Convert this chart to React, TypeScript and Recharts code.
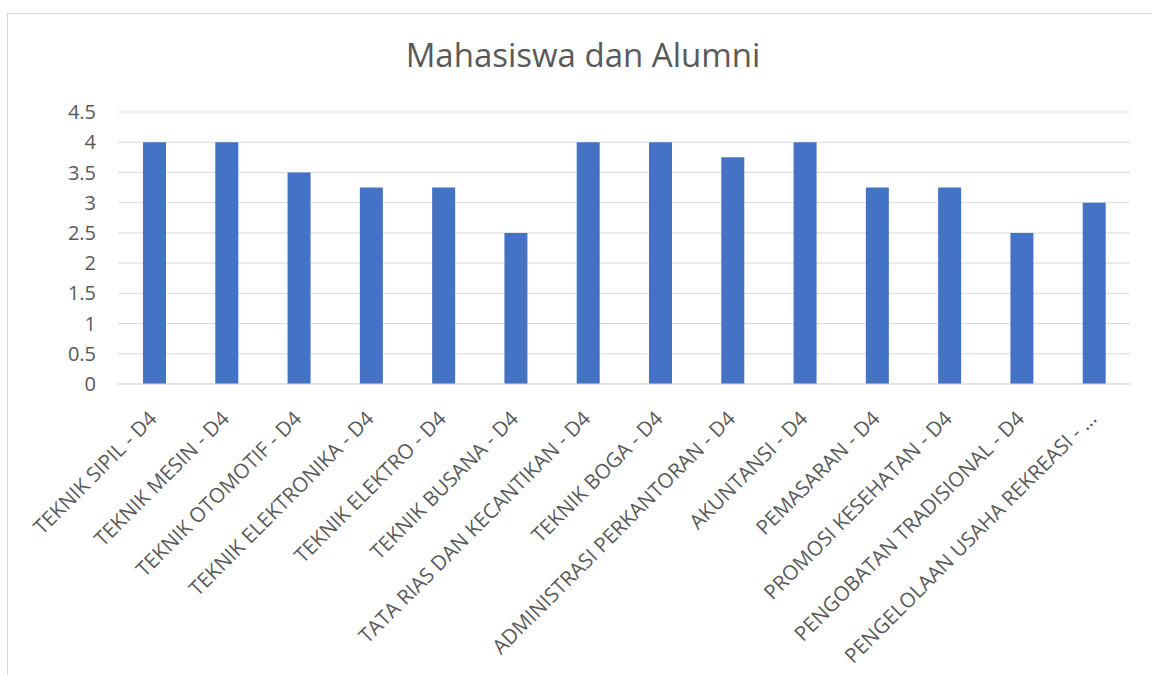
import { Bar, BarChart, CartesianGrid, XAxis, YAxis } from "recharts";

const PRODI = [
  "TEKNIK SIPIL - D4",
  "TEKNIK MESIN - D4",
  "TEKNIK OTOMOTIF - D4",
  "TEKNIK ELEKTRONIKA - D4",
  "TEKNIK ELEKTRO - D4",
  "TEKNIK BUSANA - D4",
  "TATA RIAS DAN KECANTIKAN - D4",
  "TEKNIK BOGA - D4",
  "ADMINISTRASI PERKANTORAN - D4",
  "AKUNTANSI - D4",
  "PEMASARAN - D4",
  "PROMOSI KESEHATAN - D4",
  "PENGOBATAN TRADISIONAL - D4",
  "PENGELOLAAN USAHA REKREASI - …",
];
const NILAI = [4, 4, 3.5, 3.25, 3.25, 2.5, 4, 4, 3.75, 4, 3.25, 3.25, 2.5, 3];
const Y_TICKS = [0, 0.5, 1, 1.5, 2, 2.5, 3, 3.5, 4, 4.5];

const data = PRODI.map((name, i) => ({ name, nilai: NILAI[i] }));

const FONT = "'Open Sans', 'Liberation Sans', sans-serif";
const TEXT = "#595959";

function AngledTick({ x, y, payload }: any) {
  return (
    <g transform={`translate(${x + 4},${y + 28})`}>
      <text
        x={0}
        y={0}
        textAnchor="end"
        transform="rotate(-45)"
        fill={TEXT}
        fontSize={20.5}
        fontFamily={FONT}
      >
        {payload.value}
      </text>
    </g>
  );
}

export default function App() {
  return (
    <div style={{ position: "fixed", inset: 0, overflow: "hidden", background: "#fff" }}>
      <div
        style={{
          position: "absolute",
          left: 7,
          top: 13,
          width: 1200,
          height: 700,
          border: "1px solid #d9d9d9",
          boxSizing: "border-box",
        }}
      />
      <div
        style={{
          position: "absolute",
          left: 0,
          top: 32,
          width: 1166,
          textAlign: "center",
          fontFamily: FONT,
          fontSize: 33,
          color: TEXT,
        }}
      >
        Mahasiswa dan Alumni
      </div>
      <div style={{ position: "absolute", left: 0, top: 0 }}>
        <BarChart
          width={1152}
          height={675}
          data={data}
          margin={{ top: 112, right: 22, left: 58, bottom: 0 }}
          barCategoryGap="35%"
        >
          <CartesianGrid stroke="#d9d9d9" vertical={false} />
          <XAxis
            dataKey="name"
            interval={0}
            tickLine={false}
            axisLine={{ stroke: "#d9d9d9" }}
            height={291}
            tick={<AngledTick />}
          />
          <YAxis
            domain={[0, 4.5]}
            ticks={Y_TICKS}
            width={60}
            tickLine={false}
            axisLine={false}
            tick={{ fill: TEXT, fontSize: 20, fontFamily: FONT }}
            tickMargin={16}
          />
          <Bar dataKey="nilai" fill="#4472c4" barSize={23} isAnimationActive={false} />
        </BarChart>
      </div>
    </div>
  );
}
